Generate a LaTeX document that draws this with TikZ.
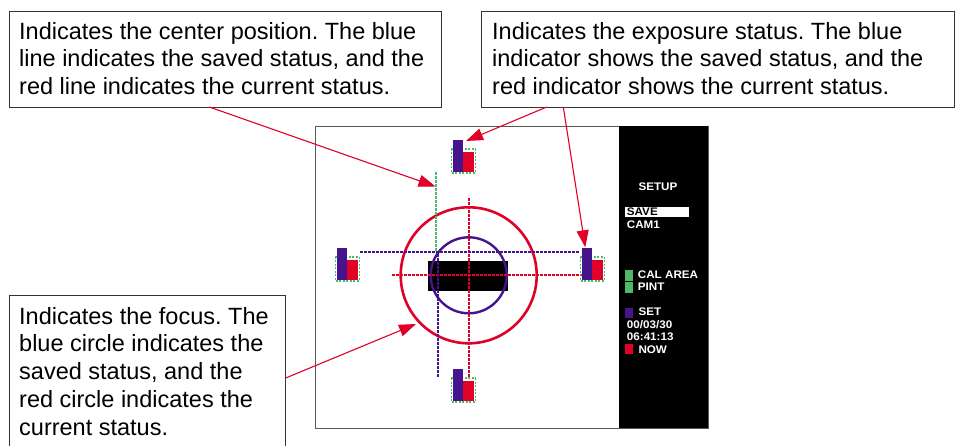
\documentclass[tikz,border=0pt]{standalone}
\usepackage{fontspec}
\setmainfont{Liberation Sans}
\newfontfamily\panelfont[FakeStretch=1.06]{Liberation Sans}
\usetikzlibrary{arrows.meta}
\definecolor{myred}{RGB}{225,0,40}
\definecolor{myblue}{RGB}{70,20,140}
\definecolor{mygreen}{RGB}{80,185,105}
\frenchspacing
\begin{document}
\begin{tikzpicture}[x=1pt,y=-1pt,
  callbox/.style={draw=black!80, line width=1pt, anchor=north west, inner sep=0pt},
  calltext/.style={anchor=north west, inner sep=0pt, align=left, font=\fontsize{23.5}{27.7}\selectfont},
  callarrow/.style={draw=myred, line width=1.1pt, -{Triangle[length=17pt,width=12pt]}},
  paneltext/.style={anchor=base west, inner sep=0pt, text=white, font=\panelfont\bfseries\fontsize{11}{13}\selectfont},
  indic/.pic={
    \draw[mygreen, line width=1.4pt, dash pattern=on 2pt off 1.5pt] (-2,9) rectangle (22,33);
    \fill[myblue] (0,0) rectangle (10,32);
    \fill[myred] (10,12) rectangle (21,32);
  }]
\useasboundingbox (0,0) rectangle (956,446);
\fill[white] (0,0) rectangle (956,446);

% callout boxes
\node[callbox, minimum width=432pt, minimum height=96pt] (box1) at (9,11) {};
\node[calltext] (t1) at (19,22) {Indicates the center position. The blue\\line indicates the saved status, and the\\red line indicates the current status.};
\node[callbox, minimum width=473pt, minimum height=96pt] (box2) at (481,11) {};
\node[calltext] (t2) at (492,22) {Indicates the exposure status. The blue\\indicator shows the saved status, and the\\red indicator shows the current status.};
\node[callbox, minimum width=276pt, minimum height=170pt] (box3) at (9,295) {};
\node[calltext] (t3) at (19,307) {Indicates the focus. The\\blue circle indicates the\\saved status, and the\\red circle indicates the\\current status.};

% monitor frame and panel
\node[draw=black!65, line width=1.2pt, anchor=north west, inner sep=0pt, minimum width=393pt, minimum height=302pt] (frame) at (315,126) {};
\node[fill=black, anchor=north west, inner sep=0pt, minimum width=89pt, minimum height=302pt] (panel) at (619,126) {};

% circles and target
\node[fill=black, anchor=north west, inner sep=0pt, minimum width=80pt, minimum height=30pt] (target) at (428,260.7) {};
\node[draw=myred, line width=2.6pt, circle, inner sep=0pt, minimum size=136pt] (redc) at (468.7,275.3) {};
\node[draw=myblue, line width=2.4pt, circle, inner sep=0pt, minimum size=76pt] (bluec) at (468.7,275.3) {};

% dashed lines (dashes drawn as small pixel-aligned bars)
\foreach \y in {198,202,...,374} \fill[myred] (468,\y) rectangle ++(2,3);
\foreach \x in {392,396,...,580} \fill[myred] (\x,274) rectangle ++(3,2);
\foreach \x in {360,364,...,579} \fill[myblue] (\x,251) rectangle ++(3,2);
\foreach \y in {254,258,...,374} \fill[myblue] (437,\y) rectangle ++(2,3);
\foreach \y in {172,176,...,249} \fill[mygreen] (435,\y) rectangle ++(2,3);

% exposure indicators
\pic at (453.3,140) {indic};
\pic at (337.3,248) {indic};
\pic at (582.3,248) {indic};
\pic at (453.3,369) {indic};

% panel content
\node[paneltext] (setup) at (638.3,190.7) {SETUP};
\node[fill=white, anchor=north west, inner sep=0pt, minimum width=64pt, minimum height=10pt] (savebg) at (625,206.7) {};
\node[paneltext, text=black] (save) at (626.7,215.3) {SAVE};
\node[paneltext] (cam) at (626.7,229) {CAM1};
\fill[mygreen] (625,270) rectangle (632.7,280.7);
\fill[mygreen] (625,281.7) rectangle (632.7,292.7);
\node[paneltext] (cal) at (637.7,279) {CAL AREA};
\node[paneltext] (pint) at (637.7,290.7) {PINT};
\fill[myblue] (625,308.3) rectangle (633,318.3);
\node[paneltext] (set) at (638.3,316) {SET};
\node[paneltext] (date) at (626.7,328.3) {00/03/30};
\node[paneltext] (time) at (626.7,341) {06:41:13};
\fill[myred] (625,344.3) rectangle (633,354.3);
\node[paneltext] (now) at (638.3,353.3) {NOW};

% arrows
\coordinate (a1s) at (209.3,107);
\coordinate (a1e) at (435.5,186.5);
\coordinate (a2s) at (546.7,107);
\coordinate (a2e) at (466,141);
\coordinate (a3s) at (563.3,107);
\coordinate (a3e) at (585.3,247.3);
\coordinate (a4s) at (285,378.3);
\coordinate (a4e) at (416,324);
\draw[callarrow] (a1s) -- (a1e);
\draw[callarrow] (a2s) -- (a2e);
\draw[callarrow] (a3s) -- (a3e);
\draw[callarrow] (a4s) -- (a4e);
\end{tikzpicture}
\end{document}
